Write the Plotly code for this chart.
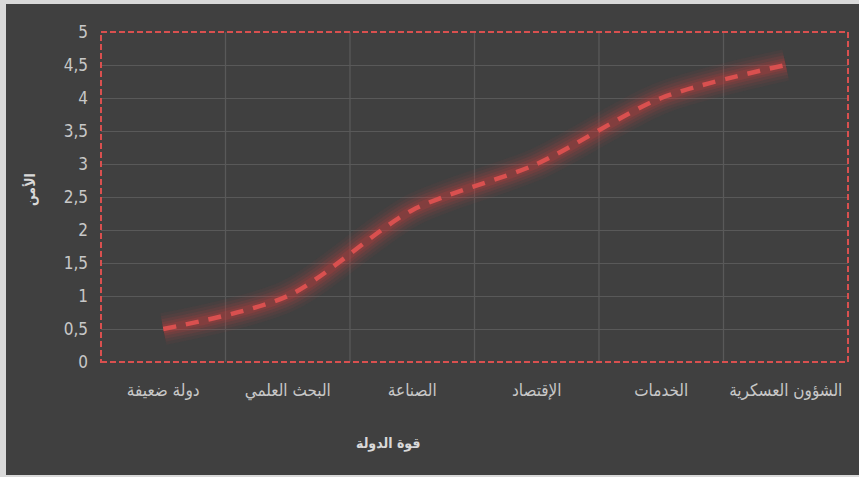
import plotly.graph_objects as go

categories = ["دولة ضعيفة", "البحث العلمي", "الصناعة", "الإقتصاد", "الخدمات", "الشؤون العسكرية"]
values = [0.5, 1.0, 2.3, 3.0, 4.0, 4.5]
y_ticks = [0, 0.5, 1, 1.5, 2, 2.5, 3, 3.5, 4, 4.5, 5]
x_title = "قوة الدولة"
y_title = "الأمن"

W, H = 859, 477
L, R, T, B = 101, 11, 32, 115
pw, ph = W - L - R, H - T - B

fig = go.Figure()

# glow layers
for w, a in [(32, 0.06), (26, 0.08), (20, 0.11), (14, 0.15), (9, 0.2)]:
    fig.add_trace(go.Scatter(
        x=categories, y=values, mode="lines",
        line=dict(color=f"rgba(205,60,60,{a})", width=w, shape="spline", smoothing=0.8),
        hoverinfo="skip", showlegend=False))

fig.add_trace(go.Scatter(
    x=categories, y=values, mode="lines",
    line=dict(color="#d9504f", width=4.5, dash="13px,10px", shape="spline", smoothing=0.8),
    showlegend=False))

# background frame
fig.add_shape(type="rect", xref="paper", yref="paper",
              x0=(6 - L) / pw, x1=(W + 5 - L) / pw,
              y0=(T + ph - 475) / ph, y1=(T + ph - 4) / ph,
              fillcolor="#404040", line=dict(width=0), layer="below")

# dashed plot border
fig.add_shape(type="rect", xref="paper", yref="paper", x0=0, x1=1, y0=0, y1=1,
              line=dict(color="#d9504f", width=2, dash="6px,3px"), layer="above")

fig.add_annotation(text=f"<b>{x_title}</b>", xref="paper", yref="paper",
                   x=(388 - L) / pw, y=(T + ph - 443) / ph, showarrow=False,
                   font=dict(size=14, color="#d9d9d9", family="DejaVu Sans Condensed, DejaVu Sans"),
                   xanchor="center", yanchor="middle")
fig.add_annotation(text=f"<b>{y_title}</b>", xref="paper", yref="paper",
                   x=(30 - L) / pw, y=(T + ph - 190) / ph, showarrow=False, textangle=-90,
                   font=dict(size=14, color="#d9d9d9", family="DejaVu Sans Condensed, DejaVu Sans"),
                   xanchor="center", yanchor="middle")

fig.update_layout(
    width=W, height=H,
    margin=dict(l=L, r=R, t=T, b=B, autoexpand=False),
    paper_bgcolor="#d9d9d9",
    plot_bgcolor="rgba(0,0,0,0)",
    separators=", ",
    showlegend=False,
    xaxis=dict(type="category", range=[-0.5, len(categories) - 0.5], automargin=False,
               showgrid=False, zeroline=False, showline=False,
               tickfont=dict(size=17, color="#c8c8c8", family="DejaVu Sans Condensed, DejaVu Sans"),
               ticks="", ticklabelstandoff=16),
    yaxis=dict(range=[0, 5], tickvals=y_ticks, showgrid=True, gridcolor="#595959", gridwidth=1.3,
               zeroline=False, showline=False, automargin=False,
               tickfont=dict(size=17, color="#c8c8c8", family="Liberation Sans Narrow, DejaVu Sans Condensed"),
               ticks="", ticklabelstandoff=12),
)

# vertical grid lines at category boundaries
for i in range(1, len(categories)):
    fig.add_shape(type="line", xref="x", yref="paper", x0=i - 0.5, x1=i - 0.5, y0=0, y1=1,
                  line=dict(color="#595959", width=1.3), layer="below")

fig.write_html("out.html")
